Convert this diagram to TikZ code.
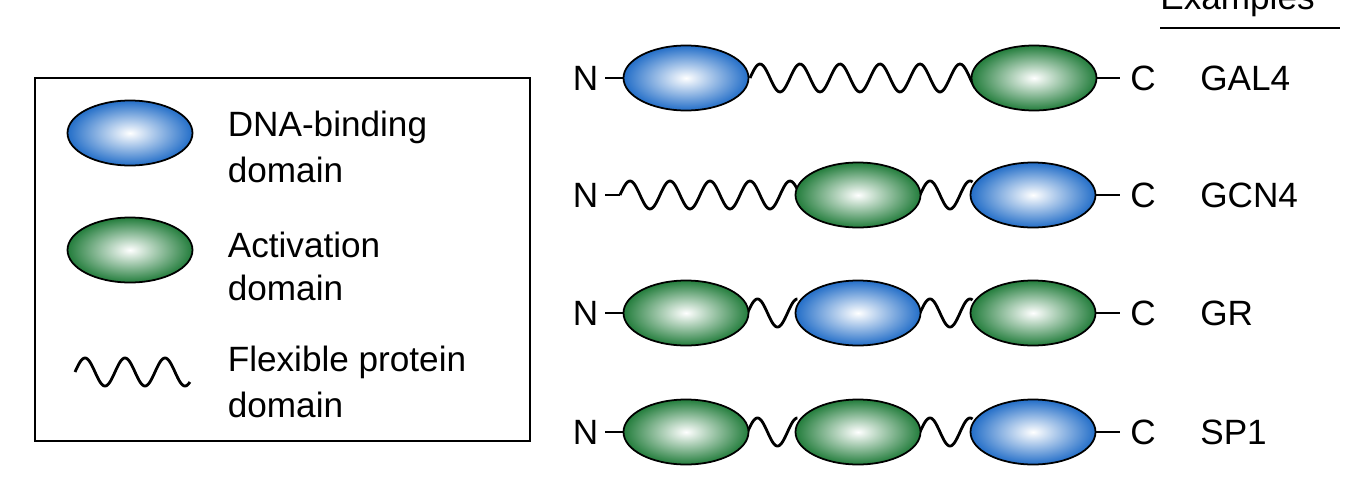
\documentclass[tikz,border=0pt]{standalone}
\usepackage{fontspec}
\setmainfont{Liberation Sans}
\definecolor{dblue}{RGB}{35,110,200}
\definecolor{dgreen}{RGB}{35,125,60}
\tikzset{
 dom/.style={ellipse,minimum width=2.5cm,minimum height=1.3cm,draw=black,line width=1pt},
 dbd/.style={dom,inner color=white,outer color=dblue},
 act/.style={dom,inner color=white,outer color=dgreen},
 lbl/.style={font=\fontsize{20}{22}\selectfont,anchor=west,inner sep=0pt},
 ln/.style={line width=1.6pt}
}
\usetikzlibrary{shapes.geometric}
\newcommand{\wv}[3]{\draw[ln] plot[domain=#1:#2,samples=120,smooth] (\x,{#3+0.28*sin(360*(\x-#1)/0.8)});}
\begin{document}
\begin{tikzpicture}
\useasboundingbox (0,0) rectangle (27.12,9.8);
% legend
\draw[line width=1pt] (0.7,0.98) rectangle (10.6,8.24);
\node[dbd] (lb) at (2.6,7.14) {};
\node[act] (lg) at (2.6,4.8) {};
\wv{1.5}{3.8}{2.36}
\node[lbl] (t1) at (4.55,7.25) {DNA-binding};
\node[lbl] (t2) at (4.55,6.4) {domain};
\node[lbl] (t3) at (4.55,4.9) {Activation};
\node[lbl] (t4) at (4.55,4.05) {domain};
\node[lbl] (t5) at (4.55,2.56) {Flexible protein};
\node[lbl] (t6) at (4.55,1.7) {domain};
% Examples
\node[lbl,anchor=south west] (ex) at (23.2,9.45) {Examples};
\draw[ln] (23.2,9.24) -- (26.8,9.24);
% rows
\foreach \y/\nm [count=\i] in {8.24/GAL4, 5.9/GCN4, 3.54/GR, 1.16/SP1}{
  \node[lbl] (n\i) at (11.45,\y) {N};
  \node[lbl] (c\i) at (22.6,\y) {C};
  \node[lbl] (e\i) at (24.0,\y) {\nm};
}
% row 1
\draw[ln] (12.1,8.24) -- (12.5,8.24); \draw[ln] (21.9,8.24) -- (22.4,8.24);
\wv{15.0}{19.5}{8.24}
\node[dbd] (r1a) at (13.72,8.24) {};
\node[act] (r1c) at (20.68,8.24) {};
% row 2
\draw[ln] (12.1,5.9) -- (12.4,5.9); \draw[ln] (21.9,5.9) -- (22.4,5.9);
\wv{12.4}{15.95}{5.9}
\wv{18.4}{19.45}{5.9}
\node[act] (r2b) at (17.16,5.9) {};
\node[dbd] (r2c) at (20.66,5.9) {};
% row 3
\draw[ln] (12.1,3.54) -- (12.5,3.54); \draw[ln] (21.9,3.54) -- (22.4,3.54);
\wv{14.95}{15.95}{3.54}
\wv{18.4}{19.45}{3.54}
\node[act] (r3a) at (13.72,3.54) {};
\node[dbd] (r3b) at (17.16,3.54) {};
\node[act] (r3c) at (20.66,3.54) {};
% row 4
\draw[ln] (12.1,1.16) -- (12.5,1.16); \draw[ln] (21.9,1.16) -- (22.4,1.16);
\wv{14.95}{15.95}{1.16}
\wv{18.4}{19.45}{1.16}
\node[act] (r4a) at (13.72,1.16) {};
\node[act] (r4b) at (17.16,1.16) {};
\node[dbd] (r4c) at (20.66,1.16) {};
\end{tikzpicture}
\end{document}
